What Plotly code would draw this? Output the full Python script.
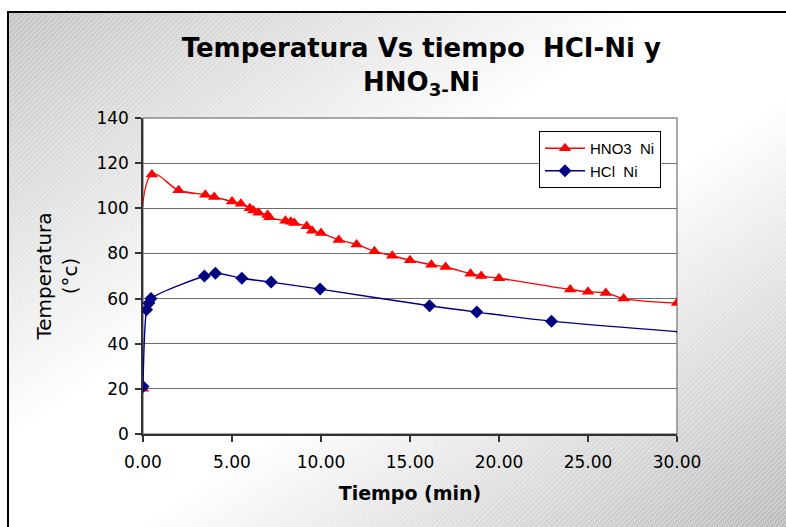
import base64
import plotly.graph_objects as go

# Temperature readings over time for the two nickel dissolutions
hno3_time = [0.0, 0.5, 2.0, 3.5, 4.0, 5.0, 5.5, 6.0, 6.2, 6.5, 7.0, 7.1, 8.0, 8.3, 8.5,
             9.2, 9.5, 10.0, 11.0, 12.0, 13.0, 14.0, 15.0, 16.2, 17.0, 18.4, 19.0, 20.0,
             24.0, 25.0, 26.0, 27.0, 30.0]
hno3_temp = [20, 115, 108, 106, 105, 103, 102, 100, 99, 98, 97, 96, 94.5, 94, 93.5,
             92, 90, 89, 86, 84, 81, 79, 77, 75, 74, 71, 70, 69,
             64, 63, 62.5, 60, 58]

hcl_time = [0.0, 0.2, 0.33, 0.45, 3.45, 4.07, 5.55, 7.2, 9.95, 16.1, 18.75, 22.95, 30.3]
hcl_temp = [21, 55, 58, 60, 70, 71.2, 69, 67.3, 64.2, 56.8, 54, 50, 45.2]

x_ticks = [0, 5, 10, 15, 20, 25, 30]
y_ticks = [0, 20, 40, 60, 80, 100, 120, 140]

# Chart-area fill: diagonal grey-white-grey gradient with a fine hatch
bg_svg = (
    "<svg xmlns='http://www.w3.org/2000/svg' width='778' height='515' "
    "viewBox='0 0 778 515' preserveAspectRatio='none'>"
    "<defs>"
    "<linearGradient id='g' x1='0' y1='0' x2='1' y2='1'>"
    "<stop offset='0' stop-color='#c4c4c4'/>"
    "<stop offset='0.42' stop-color='#ffffff'/>"
    "<stop offset='0.58' stop-color='#ffffff'/>"
    "<stop offset='1' stop-color='#bcbcbc'/>"
    "</linearGradient>"
    "<pattern id='h' width='5' height='5' patternUnits='userSpaceOnUse'>"
    "<path d='M-1,6 L6,-1' stroke='#ffffff' stroke-opacity='0.45' stroke-width='1'/>"
    "</pattern>"
    "</defs>"
    "<rect width='778' height='515' fill='url(#g)'/>"
    "<rect width='778' height='515' fill='url(#h)'/>"
    "</svg>"
)
bg_uri = "data:image/svg+xml;base64," + base64.b64encode(bg_svg.encode()).decode()

fig = go.Figure()

fig.add_trace(go.Scatter(
    x=hno3_time, y=hno3_temp, name="HNO3  Ni",
    mode="lines+markers",
    line=dict(color="#ff0000", width=1.4, shape="spline", smoothing=1.0),
    marker=dict(symbol="triangle-up", size=11, color="#ff0000"),
))
fig.add_trace(go.Scatter(
    x=hcl_time, y=hcl_temp, name="HCl  Ni",
    mode="lines+markers",
    line=dict(color="#000080", width=1.4, shape="spline", smoothing=1.0),
    marker=dict(symbol="diamond", size=10, color="#000080"),
))

W, H = 786, 527
L, R, T, B = 143, 109, 118, 93
pw, ph = W - L - R, H - T - B


def px_x(v):
    return (v - L) / pw


def px_y(v):
    return (H - B - v) / ph


fig.add_layout_image(dict(
    source=bg_uri, xref="paper", yref="paper",
    x=px_x(8), y=px_y(12), sizex=(W - 8) / pw, sizey=(H - 12) / ph,
    xanchor="left", yanchor="top", sizing="stretch", layer="below",
))

shapes = [
    # white plot area with a grey frame
    dict(type="rect", xref="paper", yref="paper", x0=0, x1=1, y0=0, y1=1,
         fillcolor="#ffffff", line=dict(color="#8c8c8c", width=1.5), layer="below"),
    # outer chart border
    dict(type="rect", xref="paper", yref="paper",
         x0=px_x(8), x1=px_x(W + 20), y0=px_y(H + 20), y1=px_y(12),
         line=dict(color="#000000", width=2), layer="above"),
]

fig.update_layout(
    width=W, height=H,
    margin=dict(l=L, r=R, t=T, b=B, pad=0),
    paper_bgcolor="#ffffff",
    plot_bgcolor="#ffffff",
    shapes=shapes,
    title=dict(
        text="Temperatura Vs tiempo  HCI-Ni y<br>HNO<sub>3</sub><sub>-</sub>Ni",
        x=0.536, xanchor="center", y=0.892, yanchor="top",
        font=dict(family="DejaVu Sans", size=26, color="#000000", weight="bold"),
    ),
    xaxis=dict(
        range=[0, 30], tickvals=x_ticks, tickformat=".2f",
        showgrid=False, zeroline=False,
        showline=True, linecolor="#333333", linewidth=1.5,
        ticks="outside", ticklen=6, tickcolor="#333333", tickwidth=1.5,
        ticklabelstandoff=6,
        tickfont=dict(family="DejaVu Sans", size=17, color="#000000"),
        title=dict(text="<b>Tiempo (min)</b>", standoff=16,
                   font=dict(family="DejaVu Sans", size=19, color="#000000")),
    ),
    yaxis=dict(
        range=[0, 140], tickvals=y_ticks,
        showgrid=True, gridcolor="#6e6e6e", gridwidth=1,
        zeroline=False,
        showline=True, linecolor="#333333", linewidth=1.5,
        ticks="outside", ticklen=6, tickcolor="#333333", tickwidth=1.5,
        ticklabelstandoff=3,
        tickfont=dict(family="DejaVu Sans", size=17, color="#000000"),
        title=dict(text="Temperatura<br>(°c)", standoff=13,
                   font=dict(family="DejaVu Sans", size=20, color="#000000")),
    ),
    legend=dict(
        x=px_x(539), y=px_y(131), xanchor="left", yanchor="top",
        bgcolor="#ffffff", bordercolor="#000000", borderwidth=1,
        font=dict(family="Liberation Sans", size=15, color="#000000"),
        tracegroupgap=0, itemwidth=40,
    ),
    showlegend=True,
)

fig.write_html("out.html")
